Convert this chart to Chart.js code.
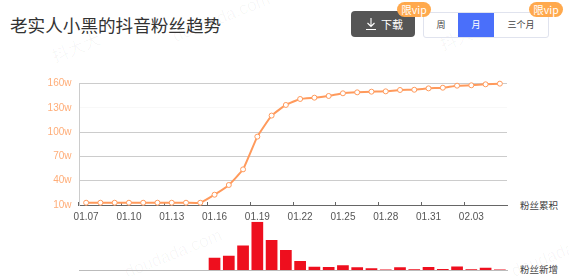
<!DOCTYPE html>
<html>
<head>
<meta charset="utf-8">
<script src="https://cdn.jsdelivr.net/npm/chart.js@4"></script>
<style>
  html, body { margin: 0; padding: 0; background: #fff; overflow: hidden; }
  body { width: 569px; height: 276px; position: relative; font-family: "Noto Sans CJK SC", sans-serif; }
  canvas { position: absolute; left: 0; }
  .abs { position: absolute; white-space: nowrap; }
  #title { left: 10px; top: 13px; font-size: 17.6px; line-height: 24px; color: #333; }
  #download { left: 351px; top: 11px; width: 64px; height: 26px; background: #555; border-radius: 4px; color: #fff; font-size: 11px; line-height: 26px; text-indent: 30px; }
  #download svg { position: absolute; left: 14px; top: 6px; }
  #tabs { left: 423px; top: 12px; width: 124px; height: 24px; border: 1px solid #e0e3ee; border-radius: 3px; font-size: 9px; line-height: 24px; color: #444; }
  #tabs span { position: absolute; top: 0; height: 24px; text-align: center; }
  #tabs .on { background: #4a6ffa; color: #fff; }
  .vip { height: 15px; line-height: 15px; width: 34px; border-radius: 8px; background: #ffa94d; color: #fff; font-size: 10.5px; text-align: center; }
  .side { left: 520px; font-size: 9.5px; line-height: 12px; color: #444; }
  .mark { color: rgba(0, 0, 0, 0.035); font-size: 17px; transform: rotate(-22deg); font-family: "Liberation Sans", "Noto Sans CJK SC", sans-serif; }
</style>
</head>
<body>
<span class="abs mark" style="left:50px;top:34px">抖大大</span>
<span class="abs mark" style="left:170px;top:8px">doudada.com</span>
<span class="abs mark" style="left:438px;top:22px">抖大大</span>
<span class="abs mark" style="left:122px;top:244px">doudada.com</span>
<span class="abs mark" style="left:510px;top:250px">doudada</span>

<div class="abs" id="title">老实人小黑的抖音粉丝趋势</div>
<div class="abs" id="download">
  <svg width="12" height="14" viewBox="0 0 12 14"><path d="M6 1v8M2.5 6L6 9.5 9.5 6M1 12.5h10" fill="none" stroke="#fff" stroke-width="1.1"/></svg>下载
</div>
<div class="abs" id="tabs">
  <span style="left:0;width:34px">周</span>
  <span class="on" style="left:34px;width:36px">月</span>
  <span style="left:70px;width:54px">三个月</span>
</div>
<div class="abs vip" style="left:397px;top:2px">限vip</div>
<div class="abs vip" style="left:529px;top:2px">限vip</div>
<div class="abs side" style="top:199px">粉丝累积</div>
<div class="abs side" style="top:263px">粉丝新增</div>

<canvas id="totalChart" width="569" height="165" style="top:60px"></canvas>
<canvas id="newChart" width="569" height="60" style="top:216px"></canvas>

<script>
// DATA
const dates = [
  "01.07", "01.08", "01.09", "01.10", "01.11", "01.12", "01.13", "01.14", "01.15", "01.16",
  "01.17", "01.18", "01.19", "01.20", "01.21", "01.22", "01.23", "01.24", "01.25", "01.26",
  "01.27", "01.28", "01.29", "01.30", "01.31", "02.01", "02.02", "02.03", "02.04", "02.05"
];
const totalFans = [
  12.8, 12.8, 12.8, 12.8, 12.8, 12.8, 12.8, 12.8, 12.8, 22.7,
  34.7, 54, 94.4, 120.4, 133.5, 140.9, 142.5, 144.6, 147.9, 149.1,
  149.9, 150.3, 152, 152.3, 154, 154.8, 157.3, 157.8, 159, 159.8
];
const newFans = [
  0, 0, 0, 0, 0, 0, 0, 0, 0, 10.2,
  12, 20.5, 40.4, 25, 16.7, 7.5, 2.8, 2.5, 3.9, 2.2,
  1.4, 0.4, 2.2, 0.6, 2.5, 0.8, 2.9, 0.7, 1.8, 0.4
];
const yTicks = [10, 40, 70, 100, 130, 160];

// LINE CHART
new Chart(document.getElementById("totalChart"), {
  type: "line",
  data: {
    labels: dates,
    datasets: [{
      data: totalFans,
      borderColor: "#ff9a5c",
      borderWidth: 2,
      tension: 0.12,
      clip: false,
      pointBackgroundColor: "#fff",
      pointBorderColor: "#ff9a5c",
      pointBorderWidth: 1,
      pointRadius: 2.5
    }]
  },
  options: {
    responsive: false,
    animation: false,
    layout: { padding: { top: 23.5, right: 62, bottom: 0, left: 0 } },
    plugins: { legend: { display: false }, tooltip: { enabled: false } },
    scales: {
      x: {
        offset: true,
        afterFit: (axis) => { axis.height = 20; },
        border: { color: "#666", width: 1 },
        grid: {
          offset: true,
          drawOnChartArea: false,
          tickLength: -3,
          tickColor: (ctx) => (ctx.index % 3 === 0 ? "#666" : "transparent")
        },
        ticks: {
          autoSkip: false,
          maxRotation: 0,
          padding: 9,
          color: "#555",
          font: { family: "Liberation Sans", size: 10 },
          callback: (value, i) => (i % 3 === 0 ? dates[i] : "")
        }
      },
      y: {
        min: 10,
        max: 160,
        afterFit: (axis) => { axis.width = 79; },
        afterBuildTicks: (axis) => { axis.ticks = yTicks.map((value) => ({ value })); },
        border: { color: "#ccc" },
        grid: {
          drawTicks: false,
          color: (ctx) => (ctx.tick.value === 130 ? "#f8f8f8" : "#ccc")
        },
        ticks: {
          padding: 7.5,
          color: "#ffad78",
          font: { family: "Liberation Sans", size: 10 },
          callback: (value) => value + "w"
        }
      }
    }
  }
});

// BAR CHART
new Chart(document.getElementById("newChart"), {
  type: "bar",
  data: {
    labels: dates,
    datasets: [{
      data: newFans,
      backgroundColor: "#ee0f1e",
      categoryPercentage: 1,
      barPercentage: 0.82
    }]
  },
  options: {
    responsive: false,
    animation: false,
    layout: { padding: { top: 5.7, right: 62, bottom: 6, left: 79 } },
    plugins: { legend: { display: false }, tooltip: { enabled: false } },
    scales: {
      x: {
        afterFit: (axis) => { axis.height = 0; },
        border: { color: "#bbb" },
        grid: { display: false },
        ticks: { display: false }
      },
      y: { display: false, min: 0, max: 40.4 }
    }
  }
});
</script>
</body>
</html>
